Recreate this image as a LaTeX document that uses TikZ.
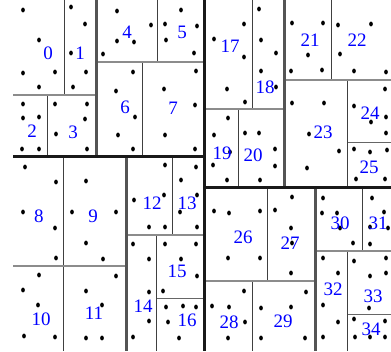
\documentclass[tikz,border=0pt]{standalone}
\usepackage{fontspec}
\setmainfont{Liberation Serif}
\tikzset{
  cut0/.style={draw=black!90, line width=3pt},
  cut1/.style={draw=black!67, line width=3pt},
  cut2/.style={draw=black!45, line width=2.5pt},
  cut3/.style={draw=black!75, line width=1pt},
  cut4/.style={draw=black!60, line width=1pt},
  cellno/.style={text=blue, inner sep=0pt, font=\fontsize{19}{19}\selectfont},
}
\begin{document}
\begin{tikzpicture}[x=1pt, y=-1pt]
\useasboundingbox (0,0) rectangle (391,351);
% points
\foreach \px/\py in {23/10,39/40,23/73,55/72,39/87, 71/7,85/24,71/53,86/72,73/87,
  23/104,23/118,39/117,22/149,39/149, 55/104,87/104,85/119,56/134,87/149,
  117/11,103/54,117/41,151/25,134/42, 181/10,165/24,197/26,166/40,194/53,
  116/91,133/72,135/117,118/135,133/149, 196/71,164/89,195/105,165/135,195/149,
  25/167,56/182,23/212,55/228,56/258, 86/181,72/212,116/212,86/243,103/259,
  39/275,23/290,38/305,24/336,55/337, 116/276,86/291,102/305,86/338,102/338,
  165/165,134/200,164/195,149/227,165/227, 196/167,181/180,197/195,180/212,197/227,
  133/244,149/259,149/292,149/321,133/337, 165/244,196/244,181/259,197/276,163/291,
  166/307,183/306,196/307,168/322,179/338, 214/39,244/24,244/57,227/89,245/102,
  259/9,261/40,276/53,261/71,276/87, 228/118,214/135,230/152,213/165,227/180,
  245/133,259/133,275/149,275/166,260/180, 292/23,323/23,308/55,291/71,322/70,
  338/25,371/24,340/54,354/71,386/72, 292/103,324/103,309/134,339/151,307/168,
  385/89,354/106,386/117,371/122,386/133, 354/149,370/152,387/150,356/179,385/179,
  214/211,229/213,260/211,228/258,260/258, 292/197,275/210,291/228,292/243,291/273,
  244/291,212/306,229/307,245/322,228/338, 261/308,261/338,306/292,291/307,305/338,
  323/198,322/213,337/213,340/228,353/243, 372/198,384/212,370/227,388/228,370/244,
  323/258,338/273,323/305,338/322,323/337, 354/261,386/258,370/276,386/273,369/308,
  354/319,385/321,355/337,370/337,385/337}
  \fill[black] (\px,\py) ellipse [x radius=1.9, y radius=2.4];
% deepest splits first
\draw[cut4] (156,298) -- (205,298);
\draw[cut4] (347,142) -- (391,142);
\draw[cut4] (347,314) -- (391,314);
\draw[cut3] (64,0) -- (64,95);
\draw[cut3] (47,95) -- (47,157);
\draw[cut3] (157,0) -- (157,62);
\draw[cut3] (142,62) -- (142,157);
\draw[cut3] (63,157) -- (63,351);
\draw[cut3] (172,157) -- (172,235);
\draw[cut3] (156,235) -- (156,351);
\draw[cut3] (252,0) -- (252,109);
\draw[cut3] (238,109) -- (238,187);
\draw[cut3] (331,0) -- (331,80);
\draw[cut3] (347,80) -- (347,187);
\draw[cut3] (267,187) -- (267,281);
\draw[cut3] (252,281) -- (252,351);
\draw[cut3] (362,187) -- (362,251);
\draw[cut3] (347,251) -- (347,351);
\draw[cut2] (13,95) -- (96,95);
\draw[cut2] (96,62) -- (205,62);
\draw[cut2] (13,266) -- (126,266);
\draw[cut2] (126,235) -- (205,235);
\draw[cut2] (205,109) -- (284,109);
\draw[cut2] (284,80) -- (391,80);
\draw[cut2] (205,281) -- (315,281);
\draw[cut2] (315,251) -- (391,251);
\draw[cut1] (96,0) -- (96,157);
\draw[cut1] (126,157) -- (126,351);
\draw[cut1] (284,0) -- (284,187);
\draw[cut1] (315,187) -- (315,351);
\draw[cut0] (13,156.5) -- (205,156.5);
\draw[cut0] (205,187.5) -- (391,187.5);
\draw[cut0] (204.5,0) -- (204.5,351);
% cell numbers
\foreach \i/\cx/\cy in {0/48/53, 1/80/53, 2/32/131, 3/73/132, 4/127/32, 5/182/32,
  6/125/107, 7/173/108, 8/39/216, 9/93/216, 10/41/319, 11/94/313, 12/152/203,
  13/187/203, 14/143/306, 15/177/271, 16/187/320, 17/230/46, 18/265/87,
  19/222/153, 20/253/155, 21/310/40, 22/357/40, 23/323/132, 24/370/113,
  25/369/167, 26/243/237, 27/290/243, 28/229/322, 29/283/321, 30/340/223,
  31/378/223, 32/333/289, 33/373/296, 34/371/329}
  \node[cellno] (c\i) at (\cx,\cy) {\i};
\end{tikzpicture}
\end{document}
